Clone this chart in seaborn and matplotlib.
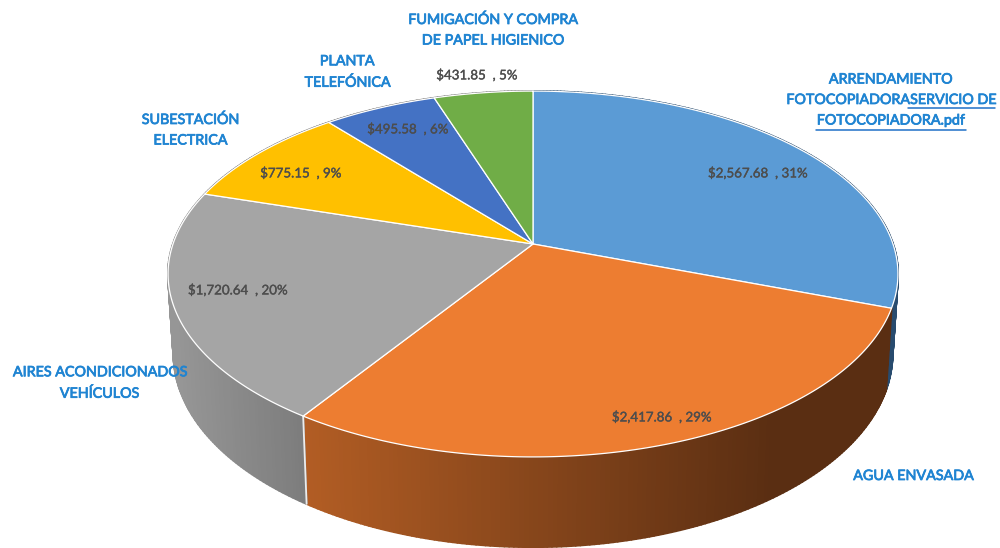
import numpy as np
import matplotlib
matplotlib.use("Agg")
import matplotlib.pyplot as plt
import matplotlib.patheffects as pe
import seaborn as sns

# ---- data ----
names = ["ARRENDAMIENTO\nFOTOCOPIADORASERVICIO DE\nFOTOCOPIADORA.pdf", "AGUA ENVASADA",
         "AIRES ACONDICIONADOS\nVEHÍCULOS", "SUBESTACIÓN\nELECTRICA",
         "PLANTA\nTELEFÓNICA", "FUMIGACIÓN Y COMPRA\nDE PAPEL HIGIENICO"]
values = [2567.68, 2417.86, 1720.64, 775.15, 495.58, 431.85]
shown_pct = [31, 29, 20, 9, 6, 5]
colors = ["#5B9BD5", "#ED7D31", "#A5A5A5", "#FFC000", "#4472C4", "#70AD47"]

sns.set_theme(style="white")
plt.rcParams["font.family"] = ["Lato", "DejaVu Sans"]

fig = plt.figure(figsize=(10, 5.48), dpi=100)
ax = fig.add_axes([0, 0, 1, 1])
ax.set_xlim(0, 1000)
ax.set_ylim(548, 0)
ax.axis("off")

# perspective projection of the pie
CX, CY, B, A, K, D, S = 533, 244, 360, 178, 0.164, 78, 0.985

def top(t):
    X, Y = np.sin(t), np.cos(t)
    w = 1 + K * Y
    return CX + B * X / w, CY - A * Y / w

def bottom(t):
    X, Y = np.sin(t), np.cos(t)
    w = 1 + K * Y
    return CX + S * B * X / w, CY - S * A * Y / w + D / w

def lerp(a, b, f):
    return tuple((np.array(a) + (np.array(b) - np.array(a)) * f) / 255)

def wall_color(i, x):
    f = np.clip((x - 303) / 470, 0, 1)
    if i == 1:
        return lerp((178, 93, 36), (90, 46, 18), f)
    if i == 2:
        g = np.clip((x - 175) / 130, 0, 1)
        return lerp((150, 150, 150), (124, 124, 124), g)
    if i == 0:
        return lerp((40, 75, 110), (40, 75, 110), f)
    return lerp((120, 120, 120), (120, 120, 120), f)

edges = 2 * np.pi * np.concatenate([[0], np.cumsum(values)]) / np.sum(values)

# side walls: overlapping strips so no seams show between them
for i in range(len(values)):
    ts = np.linspace(edges[i], edges[i + 1], max(int((edges[i + 1] - edges[i]) * 90), 4))
    for t0, t1 in zip(ts[:-1], ts[1:]):
        x0, y0 = top(t0); x1, y1 = top(t1)
        x2, y2 = bottom(t1); x3, y3 = bottom(t0)
        c = wall_color(i, (x0 + x1) / 2)
        ax.fill([x0, x1, x2, x3], [y0, y1, y2, y3], facecolor=c, edgecolor=c, lw=1.5,
                joinstyle="round", zorder=2)

# seam between grey and orange walls
t = edges[2]
ax.plot([top(t)[0], bottom(t)[0]], [top(t)[1], bottom(t)[1]], color="#ececec", lw=1.3, zorder=3)

# top faces
for i, c in enumerate(colors):
    ts = np.linspace(edges[i], edges[i + 1], 200)
    xs, ys = top(ts)
    ax.fill(np.r_[CX, xs], np.r_[CY, ys], facecolor=c, edgecolor="#ffffff", lw=0.9,
            joinstyle="round", zorder=4)

# value labels
val_pos = [(758, 173), (662, 417), (238, 290), (301, 173), (408, 129), (477, 75)]
for v, p, pos in zip(values, shown_pct, val_pos):
    ax.text(pos[0], pos[1], f"${v:,.2f}  , {p}%", ha="center", va="center",
            fontsize=9.6, color="#4d4d4d", zorder=6,
            path_effects=[pe.withStroke(linewidth=0.25, foreground="#4d4d4d")])

# category labels
name_pos = [(890, 100), (913, 476), (99, 383), (190, 130), (347, 72), (492, 30)]
for n, pos in zip(names, name_pos):
    ax.text(pos[0], pos[1], n, ha="center", va="center", fontsize=10.3, color="#1F84D2",
            linespacing=1.85, zorder=6,
            path_effects=[pe.withStroke(linewidth=0.55, foreground="#1F84D2")])

# hyperlink underline
ax.plot([908, 995], [108, 108], color="#1F70C8", lw=1.1, zorder=6)
ax.plot([816, 966], [130, 130], color="#1F70C8", lw=1.1, zorder=6)

fig.savefig("out.png", dpi=100, facecolor="white")
